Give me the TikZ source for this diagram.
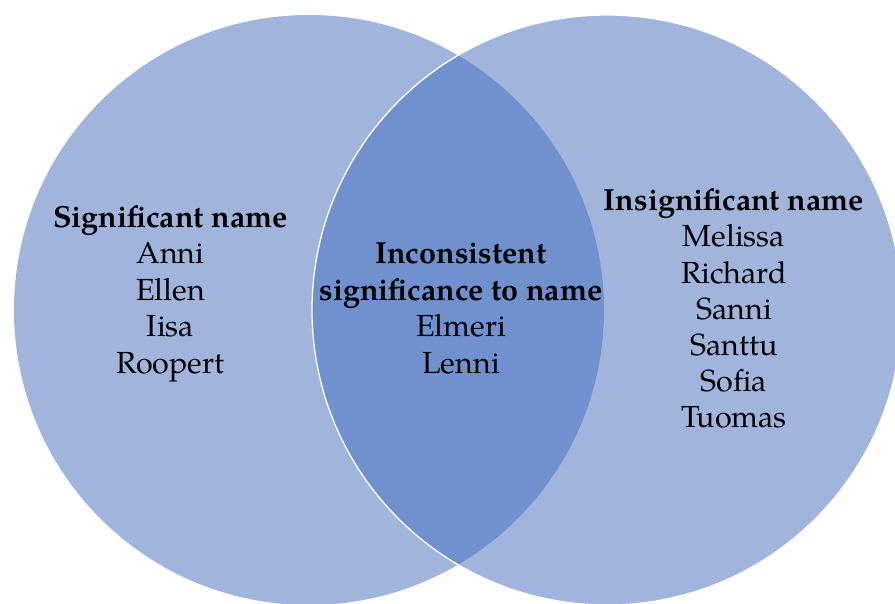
\documentclass[tikz,border=0pt]{standalone}
\usepackage{fontspec}
\setmainfont{TeX Gyre Pagella}
\begin{document}
\begin{tikzpicture}[x=1pt,y=-1pt,
  lbl/.style={anchor=base,inner sep=0pt,font=\fontsize{30.5}{36}\selectfont},
  ttl/.style={lbl,font=\fontsize{30.5}{36}\selectfont\bfseries}]
\definecolor{vlight}{RGB}{161,180,220}
\definecolor{vdark}{RGB}{112,145,206}
\useasboundingbox (0,0) rectangle (895,603);
\clip (0,0) rectangle (895,603);
\coordinate (cl) at (309,310);
\coordinate (cr) at (607,310);
\fill[vlight] (cl) circle[radius=295];
\fill[vlight] (cr) circle[radius=295];
\begin{scope}
  \clip (cl) circle[radius=295];
  \fill[vdark] (cr) circle[radius=295];
\end{scope}
\draw[white,line width=1.3pt] (cr) circle[radius=295];
% left
\node[ttl] (s0) at (170.5,227) {Significant name};
\node[lbl] (s1) at (170.5,263.5) {Anni};
\node[lbl] (s2) at (170.5,300) {Ellen};
\node[lbl] (s3) at (170.5,336.5) {Iisa};
\node[lbl] (s4) at (170.5,373) {Roopert};
% middle
\node[ttl] (m0) at (461,263.5) {Inconsistent};
\node[ttl] (m1) at (461,300) {significance to name};
\node[lbl] (m2) at (461,336.5) {Elmeri};
\node[lbl] (m3) at (461,373) {Lenni};
% right
\node[ttl] (r0) at (734,210.5) {Insignificant name};
\node[lbl] (r1) at (734,246.7) {Melissa};
\node[lbl] (r2) at (734,283) {Richard};
\node[lbl] (r3) at (734,319) {Sanni};
\node[lbl] (r4) at (734,355) {Santtu};
\node[lbl] (r5) at (734,391.5) {Sofia};
\node[lbl] (r6) at (734,427.7) {Tuomas};
\end{tikzpicture}
\end{document}
